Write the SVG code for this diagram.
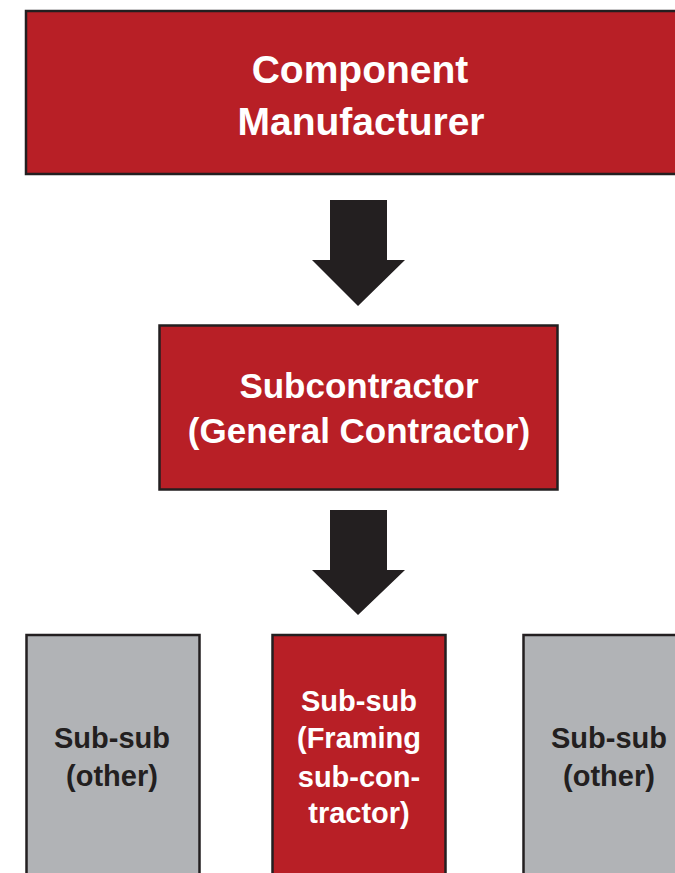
<svg xmlns="http://www.w3.org/2000/svg" width="675" height="873" viewBox="0 0 675 873">
<style>
.red{fill:#b81f26;stroke:#231f20;stroke-width:2.5}
.gray{fill:#b1b3b6;stroke:#231f20;stroke-width:2.5}
.arrow{fill:#231f20}
text{font-family:"Liberation Sans",Arial,sans-serif;font-weight:bold;text-anchor:middle}
.w{fill:#ffffff}
.d{fill:#231f20}
</style>
<rect width="675" height="873" fill="#ffffff"/>
<g id="component-manufacturer">
<rect class="red" x="26" y="11" width="680" height="163"/>
<text class="w" x="360" y="83" font-size="39">Component</text>
<text class="w" x="361" y="135" font-size="39">Manufacturer</text>
</g>
<g id="subcontractor">
<rect class="red" x="159.5" y="325.5" width="398" height="164"/>
<text class="w" x="359" y="398" font-size="35">Subcontractor</text>
<text class="w" x="359" y="443" font-size="35">(General Contractor)</text>
</g>
<g id="subsub-other-left">
<rect class="gray" x="26.5" y="635" width="173" height="260"/>
<text class="d" x="112" y="748" font-size="29">Sub-sub</text>
<text class="d" x="112" y="786" font-size="29">(other)</text>
</g>
<g id="subsub-framing">
<rect class="red" x="272.5" y="635" width="173" height="260"/>
<text class="w" x="359" y="711" font-size="29">Sub-sub</text>
<text class="w" x="359" y="748" font-size="29">(Framing</text>
<text class="w" x="359" y="787" font-size="29">sub-con-</text>
<text class="w" x="359" y="823" font-size="29">tractor)</text>
</g>
<g id="subsub-other-right">
<rect class="gray" x="523.5" y="635" width="173" height="260"/>
<text class="d" x="609" y="748" font-size="29">Sub-sub</text>
<text class="d" x="609" y="786" font-size="29">(other)</text>
</g>
<g id="connectors">
<polygon class="arrow" points="330,200 387,200 387,260 405,260 358,306 312,260 330,260"/>
<polygon class="arrow" points="330,510 387,510 387,570 405,570 358,615 312,570 330,570"/>
</g>
</svg>
